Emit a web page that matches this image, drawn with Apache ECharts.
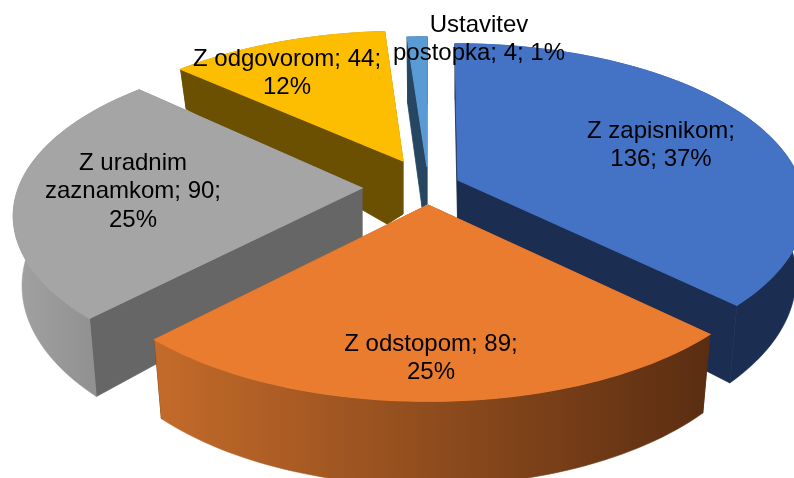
<!DOCTYPE html>
<html>
<head>
<meta charset="utf-8">
<style>html,body{margin:0;padding:0;background:#fff}#c{width:794px;height:478px}</style>
<script src="https://cdn.jsdelivr.net/npm/echarts@6/dist/echarts.min.js"></script>
</head>
<body>
<div id="c"></div>
<script>
// ---- data ----
var categories = ['Z zapisnikom', 'Z odstopom', 'Z uradnim zaznamkom', 'Z odgovorom', 'Ustavitev postopka'];
var values = [136, 89, 90, 44, 4];
// words after which each label wraps
var labelBreaks = [[2], [3], [2, 4], [3], [1]];

// ---- styling / layout ----
var topColors = ['#4472C4', '#EA7C30', '#A5A5A5', '#FDBD00', '#5B9BD5'];
var radialColors = ['#1B2E52', '#5C2F12', '#666666', '#6A5000', '#264661'];
var rimColors = [
  ['#1B2E52', '#1B2E52'],
  ['#C46B2A', '#5A2D11'],
  ['#A2A2A2', '#868686'],
  ['#6A5000', '#6A5000'],
  ['#264661', '#264661']
];
var apexes = [[458, 180], [428, 205], [362, 188], [403, 161], [427, 167]];
var rimShifts = [[-3, -4], [0, 0], [1, -4], [1.5, 2.5], [0, 2]];
var rimDepths = [67, 68, 67, 45, 79];
var apexDepths = [[0, 64], [0, 64], [0, 64], [-16, 63], [-5, 40]];
var notchDepths = [[0, 64], [0, 64], [0, 64], [0, 53], [0, 37]];
var paintOrder = [2, 4, 3, 1, 0];   // depth ranks per slice: back to front
var labelCentres = [[661, 145.5], [431, 358.5], [133, 191.5], [287, 73.5], [479, 39.5]];
var R = 343, TILT = 158, PERSP = 0.195, BOTTOM_SCALE = 0.975, FONT = 24, LINE = 28.5;

var total = values.reduce(function (a, b) { return a + b; }, 0);
function startAngle(i) {
  var s = 0;
  for (var k = 0; k < i; k++) s += values[k];
  return s / total * Math.PI * 2;
}
function topPoint(i, a) {
  var X = Math.sin(a), Y = -Math.cos(a), s = 1 / (1 - PERSP * Y);
  return {
    x: apexes[i][0] + rimShifts[i][0] + R * X * s,
    y: apexes[i][1] + rimShifts[i][1] + TILT * Y * s,
    s: s
  };
}
function bottomPoint(i, a) {
  var p = topPoint(i, a);
  return [apexes[i][0] + (p.x - apexes[i][0]) * BOTTOM_SCALE, p.y + rimDepths[i] * p.s];
}
function labelText(i) {
  var pct = Math.round(values[i] / total * 100);
  var words = (categories[i] + '; ' + values[i] + '; ' + pct + '%').split(' ');
  var out = '';
  words.forEach(function (w, k) {
    out += (k ? (labelBreaks[i].indexOf(k) >= 0 ? '\n' : ' ') : '') + w;
  });
  return out;
}

function renderItem(params, api) {
  var i = params.dataIndex;
  var v = api.value(0);
  var a0 = startAngle(i), a1 = a0 + v / total * Math.PI * 2;
  var n = Math.max(2, Math.ceil((a1 - a0) / (Math.PI / 120)));
  var topArc = [], botArc = [];
  for (var k = 0; k <= n; k++) {
    var a = a0 + (a1 - a0) * k / n;
    var p = topPoint(i, a);
    topArc.push([p.x, p.y]);
    botArc.push(bottomPoint(i, a));
  }
  var apex = apexes[i];
  var apexB = [apex[0] + apexDepths[i][0], apex[1] + apexDepths[i][1]];
  var notch = [apex[0] + notchDepths[i][0], apex[1] + notchDepths[i][1]];
  var base = paintOrder[i] * 10;
  function wall(edgeTop, edgeBot) {
    return {
      type: 'polygon', z2: base + 1,
      shape: { points: [apex, edgeTop, edgeBot, apexB, notch] },
      style: { fill: radialColors[i], stroke: radialColors[i], lineWidth: 0.8 }
    };
  }
  var rimFill = {
    type: 'linear', x: 0, y: 0, x2: 1, y2: 0,
    colorStops: [
      { offset: 0, color: rimColors[i][0] },
      { offset: 1, color: rimColors[i][1] }
    ]
  };
  var children = [
    wall(topArc[0], botArc[0]),
    wall(topArc[n], botArc[n]),
    {
      type: 'polygon', z2: base + 2,
      shape: { points: topArc.concat(botArc.slice().reverse()) },
      style: { fill: rimFill, stroke: rimFill, lineWidth: 0.6 }
    },
    {
      type: 'polygon', z2: base + 3,
      shape: { points: [apex].concat(topArc) },
      style: { fill: topColors[i], stroke: topColors[i], lineWidth: 1.2 }
    },
    {
      type: 'text', z2: 1000,
      style: {
        x: labelCentres[i][0], y: labelCentres[i][1],
        text: labelText(i),
        fill: '#000',
        font: FONT + 'px "Liberation Sans", Arial, sans-serif',
        lineHeight: LINE,
        align: 'center', verticalAlign: 'middle'
      }
    }
  ];
  return { type: 'group', children: children };
}

var chart = echarts.init(document.getElementById('c'), null, { renderer: 'canvas' });
chart.setOption({
  animation: false,
  backgroundColor: '#ffffff',
  series: [{
    type: 'custom',
    coordinateSystem: 'none',
    renderItem: renderItem,
    data: values.map(function (v) { return [v]; }),
    silent: true
  }]
});
</script>
</body>
</html>
